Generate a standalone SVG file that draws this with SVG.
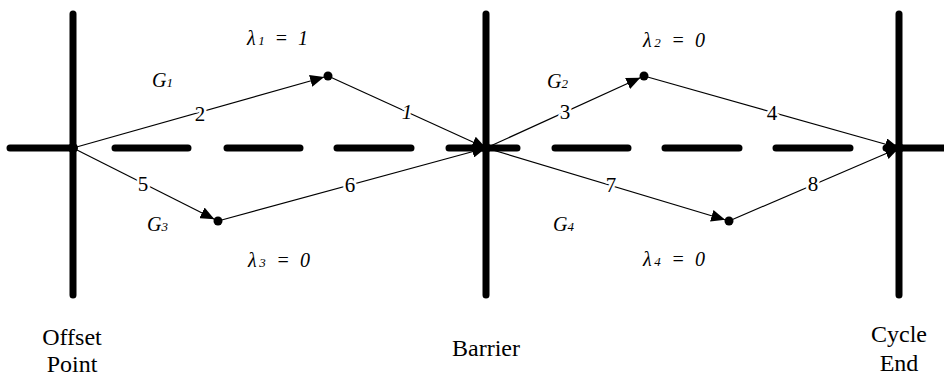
<svg xmlns="http://www.w3.org/2000/svg" width="944" height="378" viewBox="0 0 944 378">
<defs>
<style>
.bar{stroke:#000;stroke-width:7;stroke-linecap:round;fill:none}
.axis{stroke:#000;stroke-width:7;stroke-linecap:round;fill:none}
.edge{stroke:#000;stroke-width:1.2;fill:none}
text{font-family:'Liberation Serif','Tinos','Times New Roman','Times','Nimbus Roman','FreeSerif','Noto Serif','DejaVu Serif',serif}
.lbl{font-size:21px;fill:#000;text-anchor:middle;stroke:#fff;stroke-width:5;paint-order:stroke;stroke-linejoin:round}
.it{font-size:20px;font-style:italic;fill:#000}
.cap{font-size:24px;fill:#000;text-anchor:middle}
.sub{font-size:13px}
</style>
<marker id="aBar" markerUnits="userSpaceOnUse" markerWidth="15" markerHeight="12" refX="14" refY="6" orient="auto" viewBox="0 0 15 12"><path d="M0,0 L14,6 L0,12 z" fill="#000"/></marker>
<marker id="aDot" markerUnits="userSpaceOnUse" markerWidth="20" markerHeight="12" refX="18" refY="6" orient="auto" viewBox="0 0 20 12"><path d="M0,0 L14,6 L0,12 z" fill="#000"/></marker>
</defs>
<rect width="944" height="378" fill="#fff"/>
<g id="axis">
<path class="axis" d="M10,148 H73 M115,148 H188 M227,148 H300 M337,148 H411 M449,148 H517 M555,148 H628 M665,148 H739 M776,148 H850 M886,148 H944"/>
</g>
<g id="offset-point">
<line class="bar" x1="73" y1="14" x2="73" y2="295"/>
<circle cx="73" cy="148" r="5"/>
<text class="cap" x="72" y="345">Offset</text>
<text class="cap" x="72" y="372">Point</text>
</g>
<g id="barrier">
<line class="bar" x1="486" y1="14" x2="486" y2="295"/>
<circle cx="486" cy="148" r="5"/>
<text class="cap" x="486" y="356">Barrier</text>
</g>
<g id="cycle-end">
<line class="bar" x1="899" y1="14" x2="899" y2="295"/>
<circle cx="899" cy="148" r="5"/>
<text class="cap" x="899" y="342">Cycle</text>
<text class="cap" x="899" y="371">End</text>
</g>
<g id="connectors">
<line class="edge" x1="73" y1="148" x2="328" y2="76" marker-end="url(#aDot)"/>
<line class="edge" x1="328" y1="76" x2="486" y2="148" marker-end="url(#aBar)"/>
<line class="edge" x1="73" y1="148" x2="218" y2="221" marker-end="url(#aDot)"/>
<line class="edge" x1="218" y1="221" x2="486" y2="148" marker-end="url(#aBar)"/>
<line class="edge" x1="486" y1="148" x2="644" y2="76" marker-end="url(#aDot)"/>
<line class="edge" x1="644" y1="76" x2="899" y2="148" marker-end="url(#aBar)"/>
<line class="edge" x1="486" y1="148" x2="729" y2="221" marker-end="url(#aDot)"/>
<line class="edge" x1="729" y1="221" x2="899" y2="148" marker-end="url(#aBar)"/>
<text class="lbl" x="200" y="121">2</text>
<text class="lbl" x="407" y="119" font-style="italic">1</text>
<text class="lbl" x="143" y="191">5</text>
<text class="lbl" x="350" y="192">6</text>
<text class="lbl" x="565" y="119">3</text>
<text class="lbl" x="772" y="120">4</text>
<text class="lbl" x="611" y="192">7</text>
<text class="lbl" x="813" y="191">8</text>
</g>
<g id="n1"><circle cx="328" cy="76" r="4.5"/></g>
<g id="n3"><circle cx="218" cy="221" r="4.5"/></g>
<g id="n2"><circle cx="644" cy="76" r="4.5"/></g>
<g id="n4"><circle cx="729" cy="221" r="4.5"/></g>
<g id="labels">
<text class="it" x="247" y="45" textLength="61" lengthAdjust="spacing">λ<tspan class="sub">1</tspan> = 1</text>
<text class="it" x="152" y="87">G<tspan class="sub">1</tspan></text>
<text class="it" x="147" y="231">G<tspan class="sub">3</tspan></text>
<text class="it" x="248" y="267" textLength="62" lengthAdjust="spacing">λ<tspan class="sub">3</tspan> = 0</text>
<text class="it" x="547" y="88">G<tspan class="sub">2</tspan></text>
<text class="it" x="553" y="231">G<tspan class="sub">4</tspan></text>
<text class="it" x="643" y="47" textLength="62" lengthAdjust="spacing">λ<tspan class="sub">2</tspan> = 0</text>
<text class="it" x="643" y="266" textLength="62" lengthAdjust="spacing">λ<tspan class="sub">4</tspan> = 0</text>
</g>
</svg>
